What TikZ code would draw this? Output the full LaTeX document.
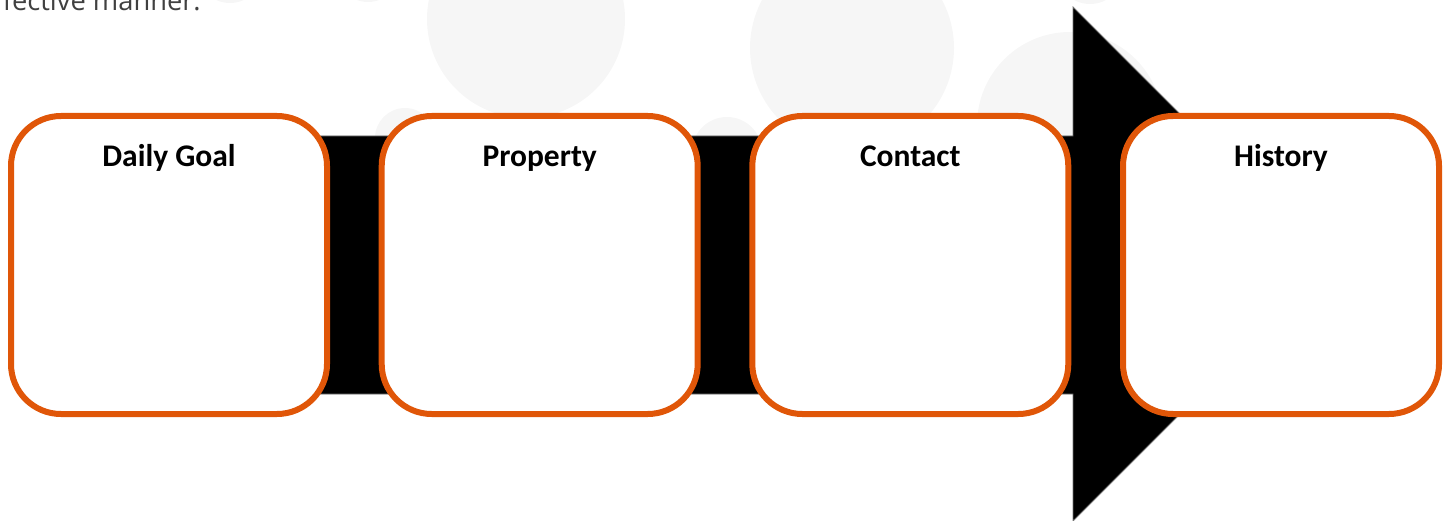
\documentclass[tikz,border=0pt]{standalone}
\usepackage{fontspec}
\setmainfont{Carlito}
\newfontfamily\introfont{Open Sans}
\definecolor{boxorange}{RGB}{224,86,8}
\definecolor{bubble}{RGB}{246,246,246}
\begin{document}
\begin{tikzpicture}[x=1pt,y=-1pt,
  stepbox/.style={draw=boxorange, line width=6pt, fill=white, rounded corners=50pt,
    minimum width=316pt, minimum height=298pt, inner sep=0pt},
  steplabel/.style={font=\fontsize{31.5}{36}\selectfont\bfseries, anchor=base, inner sep=0pt},
  bubblefill/.style={fill=bubble, draw=none},
  bigarrow/.style={fill=black, draw=black!55, line width=0.8pt}]
\useasboundingbox (0,0) rectangle (1450,521);
\clip (0,0) rectangle (1450,521);
% faint background circles
\path[bubblefill] (526,19) circle[radius=99pt];
\path[bubblefill] (852,48) circle[radius=102pt];
\path[bubblefill] (727,152) circle[radius=35pt];
\path[bubblefill] (1070,125) circle[radius=93pt];
\path[bubblefill] (405,138) circle[radius=30pt];
\path[bubblefill] (230,-30) circle[radius=33pt];
\path[bubblefill] (368,-30) circle[radius=32pt];
\path[bubblefill] (1090,-30) circle[radius=34pt];
% intro text (cut off at the top edge, as in the reference)
\node[anchor=base west, inner sep=0pt, font=\introfont\fontsize{27.3}{32}\selectfont, text=black!75] (intro) at (-22,11) {effective manner.};
% big arrow
\path[bigarrow] (200,136) -- (1073,136) -- (1073,7) -- (1330,264) -- (1073,521) -- (1073,394) -- (200,394) -- cycle;
% boxes
\node[stepbox] (b1) at (169,265) {};
\node[stepbox] (b2) at (539.7,265) {};
\node[stepbox] (b3) at (910.3,265) {};
\node[stepbox] (b4) at (1281,265) {};
\node[steplabel] (l1) at ([yshift=-54pt]b1.north) {Daily Goal};
\node[steplabel] (l2) at ([yshift=-54pt]b2.north) {Property};
\node[steplabel] (l3) at ([yshift=-54pt]b3.north) {Contact};
\node[steplabel] (l4) at ([yshift=-54pt]b4.north) {History};
\end{tikzpicture}
\end{document}
